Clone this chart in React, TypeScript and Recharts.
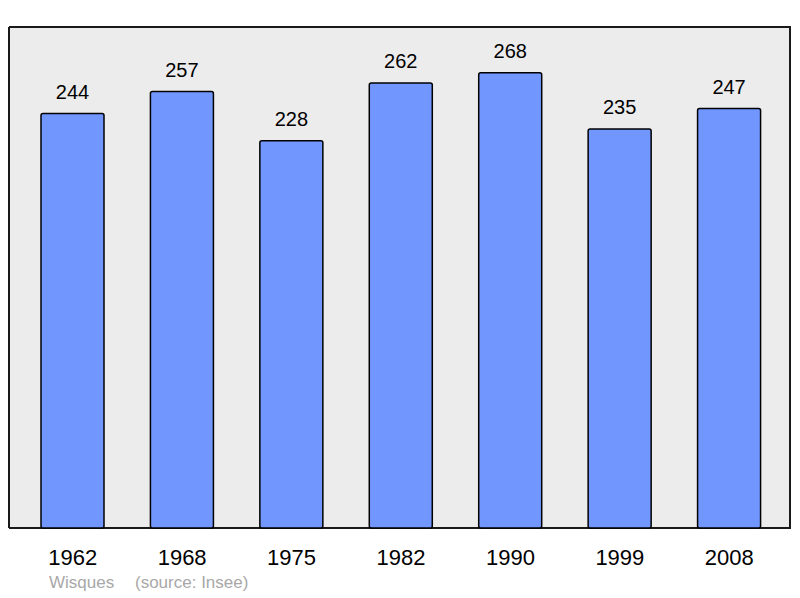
import { BarChart, Bar, XAxis, YAxis, LabelList, CartesianGrid } from "recharts";

const years = ["1962", "1968", "1975", "1982", "1990", "1999", "2008"];
const population = [244, 257, 228, 262, 268, 235, 247];

const commune = "Wisques";
const source = "(source: Insee)";

const font = '"Liberation Sans", Arial, sans-serif';

export default function App() {
  const data = years.map((y, i) => ({ year: y, pop: population[i] }));

  return (
    <div style={{ position: "absolute", left: 0, top: 0, width: 800, height: 598, fontFamily: font }}>
      <BarChart
        width={800}
        height={598}
        data={data}
        margin={{ top: 27, right: 9, left: 9, bottom: 40 }}
      >
        {/* grey frame: fill is the plot area, the two point lists draw its border */}
        <CartesianGrid
          fill="#ececec"
          fillOpacity={1}
          stroke="#1a1a1a"
          strokeWidth={2}
          horizontalPoints={[27, 528]}
          verticalPoints={[9, 790]}
        />
        <YAxis hide domain={[0, 295]} />
        <XAxis
          dataKey="year"
          height={30}
          axisLine={false}
          tickLine={false}
          tickMargin={15}
          padding={{ left: 9, right: 7 }}
          tick={{ fontSize: 22, fill: "#000", fontFamily: font }}
          interval={0}
        />
        <Bar
          dataKey="pop"
          fill="#7197ff"
          stroke="#000"
          strokeWidth={1.5}
          barSize={63}
          radius={2}
          isAnimationActive={false}
        >
          <LabelList
            dataKey="pop"
            position="top"
            offset={15}
            style={{ fontSize: 20, fill: "#000", fontFamily: font }}
          />
        </Bar>
      </BarChart>
      <div style={{ position: "absolute", left: 49, top: 573, fontSize: 17, color: "#a8a8a8" }}>
        {commune}
      </div>
      <div style={{ position: "absolute", left: 135, top: 573, fontSize: 17, color: "#a8a8a8" }}>
        {source}
      </div>
    </div>
  );
}
